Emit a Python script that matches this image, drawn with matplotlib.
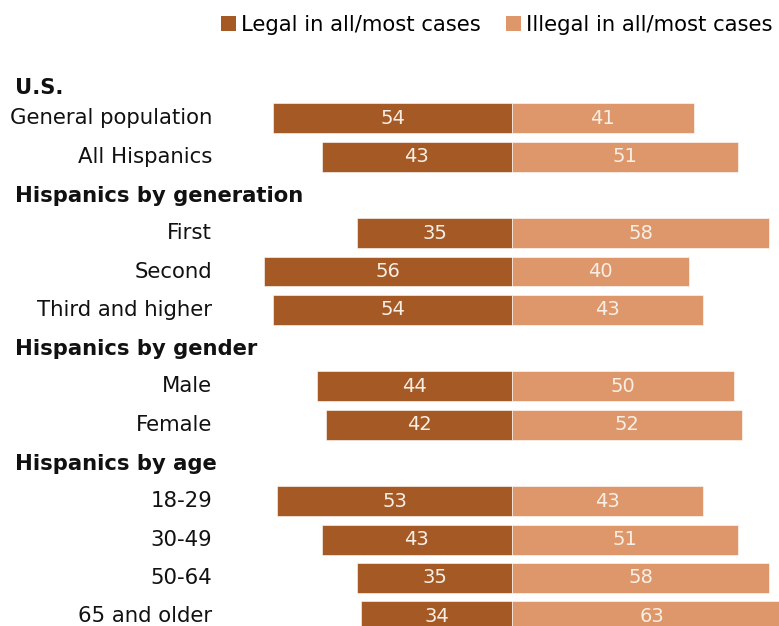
import matplotlib.pyplot as plt
from matplotlib.patches import Patch
from matplotlib.transforms import blended_transform_factory

plt.rcParams.update({
    "font.family": ["DejaVu Sans"],
    "figure.facecolor": "white",
})

# rows top-to-bottom; None in values marks a group header
rows = [
    "U.S.", "General population", "All Hispanics",
    "Hispanics by generation", "First", "Second", "Third and higher",
    "Hispanics by gender", "Male", "Female",
    "Hispanics by age", "18-29", "30-49", "50-64", "65 and older",
]
legal = [None, 54, 43, None, 35, 56, 54, None, 44, 42, None, 53, 43, 35, 34]
illegal = [None, 41, 51, None, 58, 40, 43, None, 50, 52, None, 43, 51, 58, 63]
series_names = ["Legal in all/most cases", "Illegal in all/most cases"]

DARK = "#A55A26"
LIGHT = "#DD976A"
LABEL_COLOR = "#F7EFE6"

fig = plt.figure(figsize=(7.79, 6.26), dpi=100)
ax = fig.add_axes([0, 0, 1, 1])
ax.set_xlim(-115.6, 60.27)
ax.set_ylim(14.256, -2.089)
ax.axis("off")

label_tf = blended_transform_factory(fig.transFigure, ax.transData)

for i, (name, lv, iv) in enumerate(zip(rows, legal, illegal)):
    if lv is None:
        y = i + (0.2 if i == 0 else 0.03)
        ax.text(15 / 779, y, name, transform=label_tf, ha="left", va="center",
                fontsize=15.2, fontweight="bold", color="#111111")
        continue
    ax.barh(i, -lv, height=0.78, color=DARK, edgecolor="white", linewidth=0.4)
    ax.barh(i, iv, height=0.78, color=LIGHT, edgecolor="white", linewidth=0.4)
    ax.text(-lv / 2, i, str(lv), ha="center", va="center", fontsize=14,
            color=LABEL_COLOR)
    ax.text(iv / 2, i, str(iv), ha="center", va="center", fontsize=14,
            color=LABEL_COLOR)
    ax.text(212 / 779, i, name, transform=label_tf, ha="right", va="center",
            fontsize=15.3, color="#111111")

handles = [Patch(facecolor=DARK), Patch(facecolor=LIGHT)]
fig.legend(handles, series_names, loc="center", bbox_to_anchor=(497 / 779, 1 - 25 / 626),
           ncol=2, frameon=False, fontsize=15.2, handlelength=0.7, handleheight=0.7,
           handletextpad=0.25, columnspacing=1.2, borderpad=0)

fig.savefig("out.png", dpi=100)
